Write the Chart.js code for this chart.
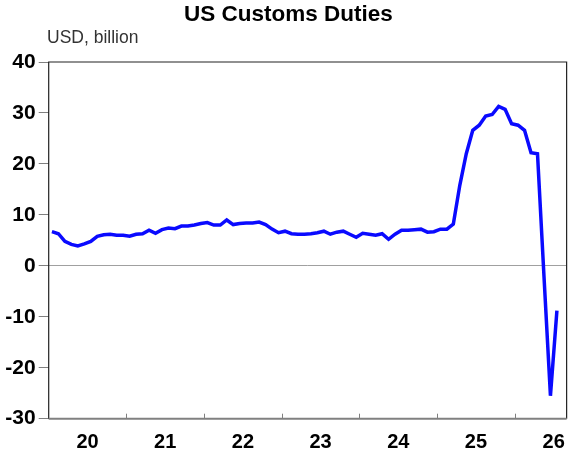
<!DOCTYPE html>
<html>
<head>
<meta charset="utf-8">
<script src="https://cdn.jsdelivr.net/npm/chart.js@4"></script>
<style>
  html, body { margin: 0; padding: 0; background: #fff; }
  #wrap { position: relative; width: 577px; height: 457px; overflow: hidden; }
  #title { position: absolute; left: 0; top: 1px; width: 577px; text-align: center;
           font: bold 22.5px "Liberation Sans", Arial, sans-serif; line-height: 26px; color: #000; }
  #unit { position: absolute; left: 47px; top: 27px;
          font: 17.5px "Liberation Sans", Arial, sans-serif; line-height: 20px; color: #333; }
  canvas { position: absolute; left: 0; top: 0; }
</style>
</head>
<body>
<div id="wrap">
  <canvas id="c" width="577" height="457"></canvas>
  <div id="title">US Customs Duties</div>
  <div id="unit">USD, billion</div>
</div>
<script>
// Monthly US customs duties, USD billion, from Jan 2020
const startYear = 2020;
const values = [
  6.7, 6.3, 4.8, 4.2, 3.9, 4.3, 4.8, 5.8, 6.1, 6.2, 6.0, 6.0,
  5.8, 6.2, 6.3, 7.0, 6.4, 7.1, 7.4, 7.3, 7.8, 7.8, 8.0, 8.3,
  8.5, 8.0, 8.0, 9.0, 8.1, 8.3, 8.4, 8.4, 8.6, 8.1, 7.2, 6.5,
  6.8, 6.3, 6.2, 6.2, 6.3, 6.5, 6.8, 6.2, 6.6, 6.8, 6.2, 5.6,
  6.4, 6.2, 6.0, 6.3, 5.2, 6.2, 7.0, 7.0, 7.1, 7.2, 6.6, 6.7,
  7.2, 7.2, 8.2, 15.8, 22.0, 26.6, 27.6, 29.4, 29.7, 31.3, 30.7, 27.9,
  27.6, 26.6, 22.2, 22.0, -2.0, -25.5, -8.8
];
const yearLabels = ['20', '21', '22', '23', '24', '25', '26'];
const yTicks = [-30, -20, -10, 0, 10, 20, 30, 40];

const points = values.map((v, i) => ({ x: i + 0.5, y: v }));
const labelPositions = yearLabels.map((_, i) => i * 12 + 6);
const yearBoundaries = yearLabels.slice(1).map((_, i) => (i + 1) * 12);

const framePlugin = {
  id: 'frame',
  afterDatasetsDraw(chart) {
    const { ctx, chartArea: a, scales } = chart;
    ctx.save();
    // inner year ticks on bottom axis
    ctx.strokeStyle = '#808080';
    ctx.lineWidth = 1;
    yearBoundaries.forEach(v => {
      const x = Math.round(scales.x.getPixelForValue(v)) + 0.5;
      ctx.beginPath();
      ctx.moveTo(x, a.bottom);
      ctx.lineTo(x, a.bottom - 5);
      ctx.stroke();
    });
    // top, right, left borders
    ctx.strokeStyle = '#222';
    ctx.lineWidth = 1.2;
    ctx.beginPath();
    ctx.moveTo(a.left, a.bottom);
    ctx.lineTo(a.left, a.top);
    ctx.lineTo(a.right, a.top);
    ctx.lineTo(a.right, a.bottom);
    ctx.stroke();
    // bottom axis
    ctx.strokeStyle = '#808080';
    ctx.lineWidth = 2;
    ctx.beginPath();
    ctx.moveTo(a.left, a.bottom);
    ctx.lineTo(a.right, a.bottom);
    ctx.stroke();
    ctx.restore();
  }
};

new Chart(document.getElementById('c'), {
  type: 'line',
  data: {
    datasets: [{
      data: points,
      borderColor: '#0a0aff',
      borderWidth: 3.5,
      pointRadius: 0,
      tension: 0,
      fill: false
    }]
  },
  options: {
    responsive: false,
    animation: false,
    devicePixelRatio: 1,
    layout: { padding: { top: 62, right: 8, left: 0, bottom: 0 } },
    plugins: { legend: { display: false }, title: { display: false }, tooltip: { enabled: false } },
    scales: {
      x: {
        type: 'linear',
        min: 0,
        max: yearLabels.length * 12 - 4,
        afterBuildTicks(scale) { scale.ticks = labelPositions.map(v => ({ value: v })); },
        afterFit(scale) { scale.height = 38.3; },
        grid: { display: false, drawTicks: false },
        border: { display: false },
        ticks: {
          autoSkip: false,
          maxRotation: 0,
          padding: 12,
          color: '#000',
          font: { family: '"Liberation Sans", Arial, sans-serif', size: 20, weight: 'bold' },
          callback: (v) => yearLabels[labelPositions.indexOf(v)]
        }
      },
      y: {
        min: yTicks[0],
        max: yTicks[yTicks.length - 1],
        afterBuildTicks(scale) { scale.ticks = yTicks.map(v => ({ value: v })); },
        afterFit(scale) { scale.width = 48.7; },
        border: { display: false },
        grid: {
          drawOnChartArea: true,
          drawTicks: true,
          tickLength: 10,
          tickColor: '#808080',
          lineWidth: 1,
          color: (ctx) => (ctx.tick && ctx.tick.value === 0) ? '#a0a0a0' : 'rgba(0,0,0,0)'
        },
        ticks: {
          padding: 3,
          color: '#000',
          font: { family: '"Liberation Sans", Arial, sans-serif', size: 21, weight: 'bold' },
          callback: (v) => String(v)
        }
      }
    }
  },
  plugins: [framePlugin]
});
</script>
</body>
</html>
